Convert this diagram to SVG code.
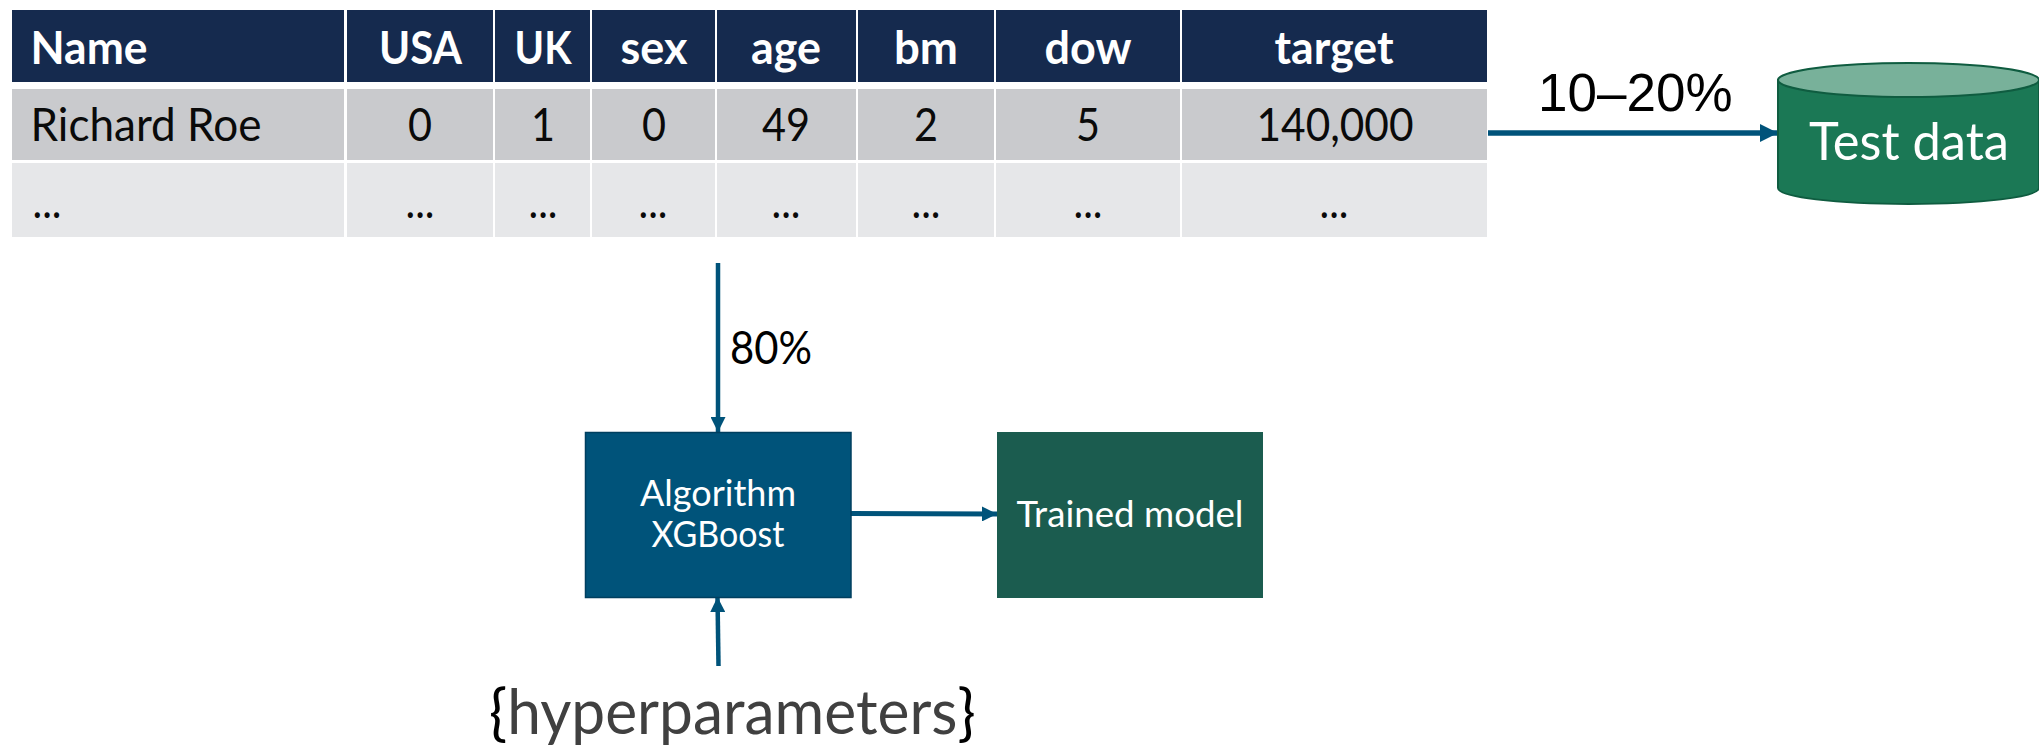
<svg xmlns="http://www.w3.org/2000/svg" width="2039" height="745" viewBox="0 0 2039 745">
<style>
text{font-family:Lato,"Open Sans","Noto Sans",sans-serif}
.h{fill:#152a4e}.r{fill:#c9cacd}.e{fill:#e6e7e9}
.th{font-size:46px;font-weight:700;fill:#fff;text-anchor:middle}
.td{font-size:46px;fill:#0a0a0a;text-anchor:middle}
.w{fill:#fff;text-anchor:middle}
.c{fill:none;stroke:#00537a}
</style>
<defs>
<marker id="a" markerUnits="userSpaceOnUse" markerWidth="15" markerHeight="15" refX="15" refY="7.500" orient="auto"><path d="M0 0L15 7.500L0 15Z" fill="#00537a"/></marker>
<marker id="b" markerUnits="userSpaceOnUse" markerWidth="18" markerHeight="18" refX="18" refY="9" orient="auto"><path d="M0 0L18 9L0 18Z" fill="#00537a"/></marker>
</defs>
<g id="table">
<rect class="h" x="12" y="10" width="332" height="72"/><rect class="h" x="347" y="10" width="146" height="72"/><rect class="h" x="495" y="10" width="95" height="72"/><rect class="h" x="592" y="10" width="123" height="72"/><rect class="h" x="717" y="10" width="139" height="72"/><rect class="h" x="858" y="10" width="136" height="72"/><rect class="h" x="996" y="10" width="184" height="72"/><rect class="h" x="1182" y="10" width="305" height="72"/>
<rect class="r" x="12" y="89" width="332" height="71"/><rect class="r" x="347" y="89" width="146" height="71"/><rect class="r" x="495" y="89" width="95" height="71"/><rect class="r" x="592" y="89" width="123" height="71"/><rect class="r" x="717" y="89" width="139" height="71"/><rect class="r" x="858" y="89" width="136" height="71"/><rect class="r" x="996" y="89" width="184" height="71"/><rect class="r" x="1182" y="89" width="305" height="71"/>
<rect class="e" x="12" y="163" width="332" height="74"/><rect class="e" x="347" y="163" width="146" height="74"/><rect class="e" x="495" y="163" width="95" height="74"/><rect class="e" x="592" y="163" width="123" height="74"/><rect class="e" x="717" y="163" width="139" height="74"/><rect class="e" x="858" y="163" width="136" height="74"/><rect class="e" x="996" y="163" width="184" height="74"/><rect class="e" x="1182" y="163" width="305" height="74"/>
<text class="th" x="89" y="64" textLength="117" lengthAdjust="spacingAndGlyphs">Name</text>
<text class="th" x="420.500" y="64" textLength="83" lengthAdjust="spacingAndGlyphs">USA</text>
<text class="th" x="543" y="64" textLength="57" lengthAdjust="spacingAndGlyphs">UK</text>
<text class="th" x="654" y="64" textLength="67" lengthAdjust="spacingAndGlyphs">sex</text>
<text class="th" x="786" y="64" textLength="70" lengthAdjust="spacingAndGlyphs">age</text>
<text class="th" x="926" y="64" textLength="64" lengthAdjust="spacingAndGlyphs">bm</text>
<text class="th" x="1088" y="64" textLength="87" lengthAdjust="spacingAndGlyphs">dow</text>
<text class="th" x="1334" y="64" textLength="119" lengthAdjust="spacingAndGlyphs">target</text>
<text class="td" x="146" y="141" textLength="231" lengthAdjust="spacingAndGlyphs">Richard Roe</text>
<text class="td" x="420" y="141" textLength="24" lengthAdjust="spacingAndGlyphs">0</text>
<text class="td" x="543" y="141" textLength="24" lengthAdjust="spacingAndGlyphs">1</text>
<text class="td" x="654" y="141" textLength="24" lengthAdjust="spacingAndGlyphs">0</text>
<text class="td" x="786" y="141" textLength="48" lengthAdjust="spacingAndGlyphs">49</text>
<text class="td" x="926" y="141" textLength="24" lengthAdjust="spacingAndGlyphs">2</text>
<text class="td" x="1088" y="141" textLength="24" lengthAdjust="spacingAndGlyphs">5</text>
<text class="td" x="1335" y="141" textLength="157" lengthAdjust="spacingAndGlyphs">140,000</text>
<text class="td" x="47" y="218" textLength="29" lengthAdjust="spacingAndGlyphs">...</text>
<text class="td" x="420" y="218" textLength="29" lengthAdjust="spacingAndGlyphs">...</text>
<text class="td" x="543" y="218" textLength="29" lengthAdjust="spacingAndGlyphs">...</text>
<text class="td" x="653" y="218" textLength="29" lengthAdjust="spacingAndGlyphs">...</text>
<text class="td" x="786" y="218" textLength="29" lengthAdjust="spacingAndGlyphs">...</text>
<text class="td" x="926" y="218" textLength="29" lengthAdjust="spacingAndGlyphs">...</text>
<text class="td" x="1088" y="218" textLength="29" lengthAdjust="spacingAndGlyphs">...</text>
<text class="td" x="1334" y="218" textLength="29" lengthAdjust="spacingAndGlyphs">...</text>
</g>
<g id="connectors">
<path class="c" stroke-width="5.500" marker-end="url(#b)" d="M1488 133H1778"/>
<path class="c" stroke-width="4.500" marker-end="url(#a)" d="M718 263V432"/>
<path class="c" stroke-width="5" marker-end="url(#a)" d="M851 513.500L997 514"/>
<path class="c" stroke-width="4.500" marker-end="url(#a)" d="M718.500 666L717.500 597"/>
</g>
<g id="test-data">
<path d="M1778 80V188C1778 197 1836 204 1908.500 204S2039 197 2039 188V80Z" fill="#1b7855" stroke="#0f5c40" stroke-width="2"/>
<ellipse cx="1908.500" cy="80" rx="130.500" ry="17" fill="#78b19a" stroke="#0f5c40" stroke-width="2"/>
<text class="w" x="1909" y="160" font-size="53" textLength="200" lengthAdjust="spacingAndGlyphs">Test data</text>
</g>
<text id="label-test" x="1538" y="111" font-size="53" fill="#000" style="font-family:'Liberation Sans',Arial,sans-serif">10–20%</text>
<text id="label-train" x="730" y="364" font-size="46" fill="#000" textLength="82" lengthAdjust="spacingAndGlyphs">80%</text>
<g id="algorithm">
<rect x="585.500" y="432.500" width="265.500" height="165" fill="#00537a" stroke="#003f5f" stroke-width="1.500"/>
<text class="w" x="718" y="506" font-size="36" textLength="156" lengthAdjust="spacingAndGlyphs">Algorithm</text>
<text class="w" x="718" y="547" font-size="36" textLength="133" lengthAdjust="spacingAndGlyphs">XGBoost</text>
</g>
<g id="trained-model">
<rect x="997" y="432" width="266" height="166" fill="#1b5c4f"/>
<text class="w" x="1130" y="527" font-size="36" textLength="227" lengthAdjust="spacingAndGlyphs">Trained model</text>
</g>
<text id="hyperparameters" transform="translate(489 734) scale(0.975 1)" font-size="62" fill="#404040"><tspan fill="#000">{</tspan>hyperparameters<tspan fill="#000">}</tspan></text>
</svg>
